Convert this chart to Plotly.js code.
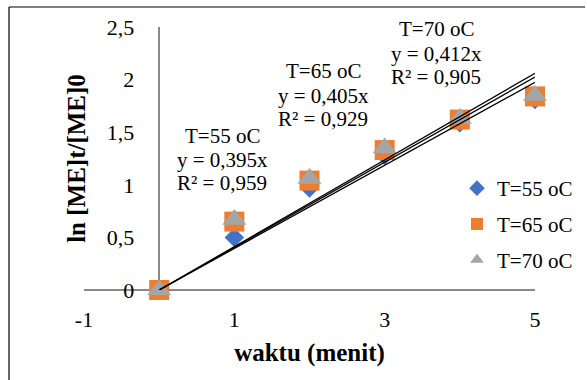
<!DOCTYPE html>
<html>
<head>
<meta charset="utf-8">
<script src="https://cdn.plot.ly/plotly-3.0.1.min.js"></script>
<style>html,body{margin:0;padding:0;background:#fff;}#chart{width:587px;height:380px;}</style>
</head>
<body>
<div id="chart"></div>
<script>
// ---- data ----
var waktu = [0, 1, 2, 3, 4, 5];
var seriesNames = ['T=55 oC', 'T=65 oC', 'T=70 oC'];
var ln55 = [0, 0.50, 0.97, 1.28, 1.59, 1.81];
var ln65 = [0, 0.65, 1.04, 1.33, 1.62, 1.84];
var ln70 = [0, 0.67, 1.06, 1.35, 1.63, 1.85];
var slopes = [0.395, 0.405, 0.412];
var eqLabels = ['y = 0,395x', 'y = 0,405x', 'y = 0,412x'];
var r2Labels = ['R² = 0,959', 'R² = 0,929', 'R² = 0,905'];
var trendX = [0, 5];
var xTicks = [-1, 1, 3, 5];
var xTickLabels = ['-1', '1', '3', '5'];
var yTicks = [0, 0.5, 1, 1.5, 2, 2.5];

// ---- layout helpers ----
var W = 587, H = 380, ML = 84, MR = 52, MT = 27, MB = 90;
var PW = W - ML - MR, PH = H - MT - MB;
function px(x) { return (x - ML) / PW; }
function py(y) { return (H - MB - y) / PH; }
var FONT = '"Liberation Serif", "Times New Roman", Times, serif';

var colors = ['#4472C4', '#ED7D31', '#A5A5A5'];
var symbols = ['diamond', 'square', 'triangle-up'];
var sizes = [15, 20, 21];
var values = [ln55, ln65, ln70];

var traces = [];
for (var i = 0; i < 3; i++) {
  traces.push({
    x: waktu, y: values[i], type: 'scatter', mode: 'markers',
    name: seriesNames[i], legendgroup: 'g' + i,
    marker: { color: colors[i], symbol: symbols[i], size: sizes[i], line: { width: 0 } },
    cliponaxis: false
  });
}
for (var j = 0; j < 3; j++) {
  traces.push({
    x: trendX, y: trendX.map(function (v) { return slopes[j] * v; }),
    type: 'scatter', mode: 'lines', showlegend: false, hoverinfo: 'skip',
    line: { color: '#000000', width: 1.3 }, cliponaxis: false
  });
}

// label blocks (centre x, line y positions in pixels)
var blockX = [222, 323, 436];
var blockY = [[135, 159, 182], [70, 95, 118], [28, 53, 76]];
var annotations = [];
for (var k = 0; k < 3; k++) {
  var lines = [seriesNames[k], eqLabels[k], r2Labels[k]];
  for (var m = 0; m < 3; m++) {
    annotations.push({
      xref: 'paper', yref: 'paper', x: px(blockX[k]), y: py(blockY[k][m] + 1),
      xanchor: 'center', yanchor: 'middle', showarrow: false,
      text: lines[m], font: { family: FONT, size: 21, color: '#000' }
    });
  }
}

var layout = {
  width: W, height: H,
  margin: { l: ML, r: MR, t: MT, b: MB, pad: 0, autoexpand: false },
  paper_bgcolor: '#ffffff', plot_bgcolor: '#ffffff',
  separators: ',.',
  showlegend: true,
  font: { family: FONT, size: 21, color: '#000' },
  xaxis: {
    range: [-1, 5], tickvals: xTicks, ticktext: xTickLabels, ticks: '', showgrid: false,
    zeroline: true, zerolinecolor: '#8a8a8a', zerolinewidth: 1.6,
    showline: false, ticklabelstandoff: 14, automargin: false,
    tickfont: { family: FONT, size: 22, color: '#000' },
    title: { text: '<b>waktu (menit)</b>', font: { family: FONT, size: 25, color: '#000' }, standoff: 12 }
  },
  yaxis: {
    range: [0, 2.5], tickvals: yTicks, ticks: '', showgrid: false,
    zeroline: true, zerolinecolor: '#8a8a8a', zerolinewidth: 1.6,
    showline: false, anchor: 'free', position: 1 / 6, ticklabelstandoff: 25,
    automargin: false,
    tickfont: { family: FONT, size: 22, color: '#000' },
    title: { text: '<b>ln [ME]t/[ME]0</b>', font: { family: FONT, size: 25, color: '#000' }, standoff: 12 }
  },
  legend: {
    x: px(457), y: py(168), xanchor: 'left', yanchor: 'top',
    bgcolor: 'rgba(0,0,0,0)', borderwidth: 0, tracegroupgap: 5.5,
    itemsizing: 'constant',
    font: { family: FONT, size: 21, color: '#000' }
  },
  annotations: annotations,
  shapes: [
    { type: 'line', xref: 'paper', yref: 'paper', x0: px(9), x1: px(585), y0: py(7), y1: py(7), line: { color: '#000', width: 1.2 } },
    { type: 'line', xref: 'paper', yref: 'paper', x0: px(9), x1: px(9), y0: py(7), y1: py(382), line: { color: '#000', width: 1.2 } }
  ]
};

Plotly.newPlot('chart', traces, layout, { staticPlot: true, displayModeBar: false });
</script>
</body>
</html>
